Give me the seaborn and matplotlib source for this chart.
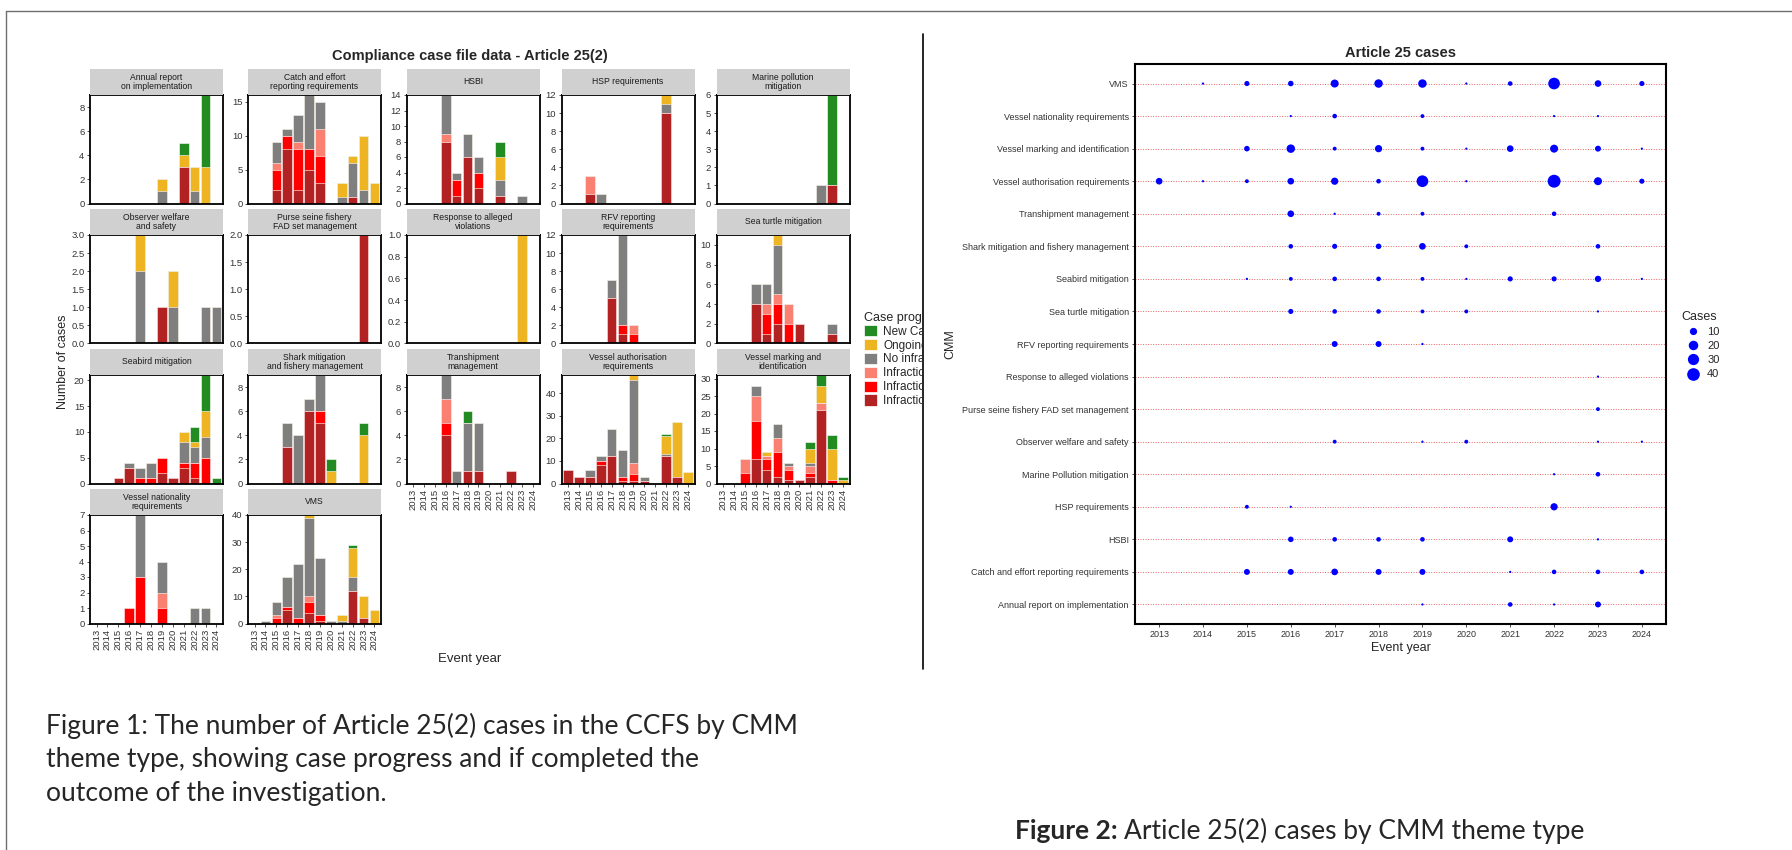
import numpy as np
import pandas as pd
import seaborn as sns
import matplotlib.pyplot as plt
from matplotlib.patches import Patch
from matplotlib.lines import Line2D
from matplotlib.transforms import Bbox, TransformedBbox

# ---------------- data: figure 1 (stacked bars) ----------------
years = list(range(2013, 2025))
year_labels = [str(y) for y in years]

# stack order, bottom to top
stack_order = ["Infraction - sanctioned", "Infraction - warning", "Infraction - no action",
               "No infraction", "Ongoing", "New Case"]
stack_colors = ["#B22222", "#FF0000", "#FA8072", "#7F7F7F", "#EEB422", "#228B22"]

# each panel: one row per stack level (same order as stack_order), one value per year
annual_report = [
    [0, 0, 0, 0, 0, 0, 0, 0, 3, 0, 0, 0],
    [0, 0, 0, 0, 0, 0, 0, 0, 0, 0, 0, 0],
    [0, 0, 0, 0, 0, 0, 0, 0, 0, 0, 0, 0],
    [0, 0, 0, 0, 0, 0, 1, 0, 0, 1, 0, 0],
    [0, 0, 0, 0, 0, 0, 1, 0, 1, 2, 3, 0],
    [0, 0, 0, 0, 0, 0, 0, 0, 1, 0, 6, 0],
]
catch_effort = [
    [0, 0, 2, 8, 2, 5, 3, 0, 0, 1, 0, 0],
    [0, 0, 3, 2, 6, 3, 4, 0, 0, 0, 0, 0],
    [0, 0, 1, 0, 1, 0, 4, 0, 0, 0, 0, 0],
    [0, 0, 3, 1, 4, 8, 4, 0, 1, 5, 2, 0],
    [0, 0, 0, 0, 0, 0, 0, 0, 2, 1, 8, 3],
    [0, 0, 0, 0, 0, 0, 0, 0, 0, 0, 0, 0],
]
hsbi = [
    [0, 0, 0, 8, 1, 6, 2, 0, 1, 0, 0, 0],
    [0, 0, 0, 0, 2, 0, 2, 0, 0, 0, 0, 0],
    [0, 0, 0, 1, 0, 0, 0, 0, 0, 0, 0, 0],
    [0, 0, 0, 5, 1, 3, 2, 0, 2, 0, 1, 0],
    [0, 0, 0, 0, 0, 0, 0, 0, 3, 0, 0, 0],
    [0, 0, 0, 0, 0, 0, 0, 0, 2, 0, 0, 0],
]
hsp = [
    [0, 0, 1, 0, 0, 0, 0, 0, 0, 10, 0, 0],
    [0, 0, 0, 0, 0, 0, 0, 0, 0, 0, 0, 0],
    [0, 0, 2, 0, 0, 0, 0, 0, 0, 0, 0, 0],
    [0, 0, 0, 1, 0, 0, 0, 0, 0, 1, 0, 0],
    [0, 0, 0, 0, 0, 0, 0, 0, 0, 1, 0, 0],
    [0, 0, 0, 0, 0, 0, 0, 0, 0, 0, 0, 0],
]
marine_pollution = [
    [0, 0, 0, 0, 0, 0, 0, 0, 0, 0, 1, 0],
    [0, 0, 0, 0, 0, 0, 0, 0, 0, 0, 0, 0],
    [0, 0, 0, 0, 0, 0, 0, 0, 0, 0, 0, 0],
    [0, 0, 0, 0, 0, 0, 0, 0, 0, 1, 0, 0],
    [0, 0, 0, 0, 0, 0, 0, 0, 0, 0, 0, 0],
    [0, 0, 0, 0, 0, 0, 0, 0, 0, 0, 5, 0],
]
observer = [
    [0, 0, 0, 0, 0, 0, 1, 0, 0, 0, 0, 0],
    [0, 0, 0, 0, 0, 0, 0, 0, 0, 0, 0, 0],
    [0, 0, 0, 0, 0, 0, 0, 0, 0, 0, 0, 0],
    [0, 0, 0, 0, 2, 0, 0, 1, 0, 0, 1, 1],
    [0, 0, 0, 0, 1, 0, 0, 1, 0, 0, 0, 0],
    [0, 0, 0, 0, 0, 0, 0, 0, 0, 0, 0, 0],
]
purse_seine = [
    [0, 0, 0, 0, 0, 0, 0, 0, 0, 0, 2, 0],
    [0, 0, 0, 0, 0, 0, 0, 0, 0, 0, 0, 0],
    [0, 0, 0, 0, 0, 0, 0, 0, 0, 0, 0, 0],
    [0, 0, 0, 0, 0, 0, 0, 0, 0, 0, 0, 0],
    [0, 0, 0, 0, 0, 0, 0, 0, 0, 0, 0, 0],
    [0, 0, 0, 0, 0, 0, 0, 0, 0, 0, 0, 0],
]
response = [
    [0, 0, 0, 0, 0, 0, 0, 0, 0, 0, 0, 0],
    [0, 0, 0, 0, 0, 0, 0, 0, 0, 0, 0, 0],
    [0, 0, 0, 0, 0, 0, 0, 0, 0, 0, 0, 0],
    [0, 0, 0, 0, 0, 0, 0, 0, 0, 0, 0, 0],
    [0, 0, 0, 0, 0, 0, 0, 0, 0, 0, 1, 0],
    [0, 0, 0, 0, 0, 0, 0, 0, 0, 0, 0, 0],
]
rfv = [
    [0, 0, 0, 0, 5, 1, 0, 0, 0, 0, 0, 0],
    [0, 0, 0, 0, 0, 1, 1, 0, 0, 0, 0, 0],
    [0, 0, 0, 0, 0, 0, 1, 0, 0, 0, 0, 0],
    [0, 0, 0, 0, 2, 10, 0, 0, 0, 0, 0, 0],
    [0, 0, 0, 0, 0, 0, 0, 0, 0, 0, 0, 0],
    [0, 0, 0, 0, 0, 0, 0, 0, 0, 0, 0, 0],
]
sea_turtle = [
    [0, 0, 0, 4, 1, 2, 0, 2, 0, 0, 1, 0],
    [0, 0, 0, 0, 2, 2, 2, 0, 0, 0, 0, 0],
    [0, 0, 0, 0, 1, 1, 2, 0, 0, 0, 0, 0],
    [0, 0, 0, 2, 2, 5, 0, 0, 0, 0, 1, 0],
    [0, 0, 0, 0, 0, 1, 0, 0, 0, 0, 0, 0],
    [0, 0, 0, 0, 0, 0, 0, 0, 0, 0, 0, 0],
]
seabird = [
    [0, 0, 1, 3, 0, 0, 2, 1, 3, 1, 0, 0],
    [0, 0, 0, 0, 1, 1, 3, 0, 1, 3, 5, 0],
    [0, 0, 0, 0, 0, 0, 0, 0, 0, 0, 0, 0],
    [0, 0, 0, 1, 2, 3, 0, 0, 4, 3, 4, 0],
    [0, 0, 0, 0, 0, 0, 0, 0, 2, 1, 5, 0],
    [0, 0, 0, 0, 0, 0, 0, 0, 0, 3, 7, 1],
]
shark = [
    [0, 0, 0, 3, 0, 6, 5, 0, 0, 0, 0, 0],
    [0, 0, 0, 0, 0, 0, 1, 0, 0, 0, 0, 0],
    [0, 0, 0, 0, 0, 0, 0, 0, 0, 0, 0, 0],
    [0, 0, 0, 2, 4, 1, 3, 0, 0, 0, 0, 0],
    [0, 0, 0, 0, 0, 0, 0, 1, 0, 0, 4, 0],
    [0, 0, 0, 0, 0, 0, 0, 1, 0, 0, 1, 0],
]
transhipment = [
    [0, 0, 0, 4, 0, 1, 1, 0, 0, 1, 0, 0],
    [0, 0, 0, 1, 0, 0, 0, 0, 0, 0, 0, 0],
    [0, 0, 0, 2, 0, 0, 0, 0, 0, 0, 0, 0],
    [0, 0, 0, 2, 1, 4, 4, 0, 0, 0, 0, 0],
    [0, 0, 0, 0, 0, 0, 0, 0, 0, 0, 0, 0],
    [0, 0, 0, 0, 0, 1, 0, 0, 0, 0, 0, 0],
]
vessel_auth = [
    [6, 3, 3, 8, 12, 1, 1, 1, 0, 12, 3, 0],
    [0, 0, 0, 2, 0, 2, 3, 0, 0, 0, 0, 0],
    [0, 0, 0, 0, 0, 0, 5, 0, 0, 0, 0, 0],
    [0, 0, 3, 2, 12, 12, 37, 2, 0, 1, 0, 0],
    [0, 0, 0, 0, 0, 0, 2, 0, 0, 8, 24, 5],
    [0, 0, 0, 0, 0, 0, 0, 0, 0, 1, 0, 0],
]
vessel_marking = [
    [0, 0, 0, 7, 4, 2, 1, 1, 2, 21, 0, 0],
    [0, 0, 3, 11, 3, 7, 3, 0, 1, 0, 1, 0],
    [0, 0, 4, 7, 1, 4, 1, 0, 2, 2, 0, 0],
    [0, 0, 0, 3, 0, 4, 1, 0, 1, 0, 0, 0],
    [0, 0, 0, 0, 1, 0, 0, 0, 4, 5, 9, 1],
    [0, 0, 0, 0, 0, 0, 0, 0, 2, 3, 4, 1],
]
vessel_nationality = [
    [0, 0, 0, 0, 0, 0, 0, 0, 0, 0, 0, 0],
    [0, 0, 0, 1, 3, 0, 1, 0, 0, 0, 0, 0],
    [0, 0, 0, 0, 0, 0, 1, 0, 0, 0, 0, 0],
    [0, 0, 0, 0, 4, 0, 2, 0, 0, 1, 1, 0],
    [0, 0, 0, 0, 0, 0, 0, 0, 0, 0, 0, 0],
    [0, 0, 0, 0, 0, 0, 0, 0, 0, 0, 0, 0],
]
vms = [
    [0, 0, 0, 5, 0, 4, 1, 0, 0, 12, 2, 0],
    [0, 0, 2, 1, 2, 4, 2, 0, 0, 0, 0, 0],
    [0, 0, 1, 0, 0, 2, 0, 0, 0, 0, 0, 0],
    [0, 1, 5, 11, 20, 29, 21, 1, 1, 5, 0, 0],
    [0, 0, 0, 0, 0, 1, 0, 0, 2, 11, 8, 5],
    [0, 0, 0, 0, 0, 0, 0, 0, 0, 1, 0, 0],
]

panel_titles = ["Annual report\non implementation", "Catch and effort\nreporting requirements", "HSBI",
                "HSP requirements", "Marine pollution\nmitigation", "Observer welfare\nand safety",
                "Purse seine fishery\nFAD set management", "Response to alleged\nviolations",
                "RFV reporting\nrequirements", "Sea turtle mitigation", "Seabird mitigation",
                "Shark mitigation\nand fishery management", "Transhipment\nmanagement",
                "Vessel authorisation\nrequirements", "Vessel marking and\nidentification",
                "Vessel nationality\nrequirements", "VMS"]
panel_counts = [annual_report, catch_effort, hsbi, hsp, marine_pollution, observer, purse_seine,
                response, rfv, sea_turtle, seabird, shark, transhipment, vessel_auth,
                vessel_marking, vessel_nationality, vms]
# y tick spacing per panel (styling)
panel_ystep = [2, 5, 2, 2, 1, 0.5, 0.5, 0.2, 2, 2, 5, 2, 2, 10, 5, 1, 10]

# ---------------- data: figure 2 (bubble chart) ----------------
cmm_order = ["Annual report on implementation", "Catch and effort reporting requirements", "HSBI",
             "HSP requirements", "Marine Pollution mitigation", "Observer welfare and safety",
             "Purse seine fishery FAD set management", "Response to alleged violations",
             "RFV reporting requirements", "Sea turtle mitigation", "Seabird mitigation",
             "Shark mitigation and fishery management", "Transhipment management",
             "Vessel authorisation requirements", "Vessel marking and identification",
             "Vessel nationality requirements", "VMS"]
cases_annual = [0, 0, 0, 0, 0, 0, 1, 0, 3, 1, 6, 0]
cases_catch = [0, 0, 6, 6, 8, 6, 6, 0, 1, 3, 3, 3]
cases_hsbi = [0, 0, 0, 5, 3, 3, 3, 0, 6, 0, 1, 0]
cases_hsp = [0, 0, 2, 1, 0, 0, 0, 0, 0, 10, 0, 0]
cases_marine = [0, 0, 0, 0, 0, 0, 0, 0, 0, 1, 3, 0]
cases_observer = [0, 0, 0, 0, 2, 0, 1, 2, 0, 0, 1, 1]
cases_purse = [0, 0, 0, 0, 0, 0, 0, 0, 0, 0, 2, 0]
cases_response = [0, 0, 0, 0, 0, 0, 0, 0, 0, 0, 1, 0]
cases_rfv = [0, 0, 0, 0, 6, 6, 1, 0, 0, 0, 0, 0]
cases_turtle = [0, 0, 0, 4, 3, 3, 2, 2, 0, 0, 1, 0]
cases_seabird = [0, 0, 1, 2, 3, 3, 2, 1, 4, 4, 7, 1]
cases_shark = [0, 0, 0, 3, 4, 5, 8, 2, 0, 0, 3, 0]
cases_tranship = [0, 0, 0, 8, 1, 2, 2, 0, 0, 3, 0, 0]
cases_vauth = [8, 1, 2, 8, 10, 3, 33, 1, 0, 42, 13, 4]
cases_vmark = [0, 0, 5, 15, 2, 10, 2, 1, 8, 13, 6, 1]
cases_vnat = [0, 0, 0, 1, 3, 0, 2, 0, 0, 1, 1, 0]
cases_vms = [0, 1, 4, 5, 13, 15, 15, 1, 3, 33, 8, 4]
bubble_rows = [cases_annual, cases_catch, cases_hsbi, cases_hsp, cases_marine, cases_observer,
               cases_purse, cases_response, cases_rfv, cases_turtle, cases_seabird, cases_shark,
               cases_tranship, cases_vauth, cases_vmark, cases_vnat, cases_vms]
legend_cases = [10, 20, 30, 40]

# ---------------- figure ----------------
sns.set_style("white")
plt.rcParams["font.family"] = ["Liberation Sans", "DejaVu Sans"]

W, H = 1792, 850
fig = plt.figure(figsize=(W / 100, H / 100), dpi=100)


def px_axes(x, y, w, h):
    # axes placed in pixel units measured from the top-left corner
    return fig.add_axes([x / W, 1 - (y + h) / H, w / W, h / H])


def px_x(x):
    return x / W


def px_y(y):
    return 1 - y / H


tick_col = "#333333"

# ----- figure 1: faceted stacked bars -----
col_x = [90, 248, 406.5, 561.5, 716.5]
row_y = [95, 235, 375, 515]
pw, ph, sh = 133, 108.5, 26.5

for k, (title, counts) in enumerate(zip(panel_titles, panel_counts)):
    r, c = divmod(k, 5)
    ax = px_axes(col_x[c], row_y[r], pw, ph)
    table = pd.DataFrame(np.array(counts).T, columns=stack_order, index=year_labels)
    cum = table.cumsum(axis=1)
    # draw cumulative layers from the top of the stack down
    for status, colr in list(zip(stack_order, stack_colors))[::-1]:
        sns.barplot(x=year_labels, y=cum[status].to_numpy(), order=year_labels, color=colr,
                    saturation=1, width=0.88, edgecolor="white", linewidth=0.4,
                    errorbar=None, ax=ax)
    top = cum[stack_order[-1]].max()
    ax.set_xlim(-0.6, 11.6)
    ax.set_ylim(0, top)
    step = panel_ystep[k]
    ticks = np.arange(0, top + 1e-9, step)
    ax.set_yticks(ticks)
    ax.set_yticklabels([f"{t:.1f}" if step < 1 else f"{int(round(t))}" for t in ticks])
    ax.set_xlabel("")
    ax.set_ylabel("")
    for s in ax.spines.values():
        s.set_color("black")
        s.set_linewidth(1.3)
    ax.tick_params(axis="y", labelsize=6.8, colors=tick_col, length=2.5, width=0.6, pad=1.5,
                   left=True)
    if k + 5 >= len(panel_titles):
        ax.tick_params(axis="x", labelsize=6.8, colors=tick_col, length=2.5, width=0.6,
                       rotation=90, pad=1.5, bottom=True)
    else:
        ax.tick_params(axis="x", bottom=False, labelbottom=False)

    sax = px_axes(col_x[c], row_y[r] - sh, pw, sh)
    sax.set_facecolor("#D0D0D0")
    sax.set_xticks([])
    sax.set_yticks([])
    for s in sax.spines.values():
        s.set_visible(False)
    sax.text(0.5, 0.5, title, ha="center", va="center", fontsize=6.2, color="#1A1A1A",
             linespacing=1.0, transform=sax.transAxes)

fig.text(px_x(470), px_y(56), "Compliance case file data - Article 25(2)", ha="center",
         va="center", fontsize=10.5, fontweight="bold")
fig.text(px_x(63), px_y(362), "Number of cases", rotation=90, ha="center", va="center",
         fontsize=9)
fig.text(px_x(470), px_y(659), "Event year", ha="center", va="center", fontsize=9.5)

handles = [Patch(facecolor=cc, edgecolor="white", linewidth=0.5) for cc in stack_colors[::-1]]
leg1 = fig.legend(handles, stack_order[::-1], title="Case progress", loc="upper left",
                  bbox_to_anchor=(px_x(858), px_y(306)), frameon=False, fontsize=8.5,
                  title_fontsize=9, handlelength=1.1, handleheight=1.1, labelspacing=0.1,
                  handletextpad=0.55, borderpad=0, alignment="left")
clip = TransformedBbox(Bbox([[0, 0], [px_x(922), 1]]), fig.transFigure)
for t in leg1.get_texts() + [leg1.get_title()]:
    t.set_clip_box(clip)
    t.set_clip_on(True)

# ----- figure 2: bubble chart -----
bubble = pd.DataFrame([(cmm, yr, n) for cmm, row in zip(cmm_order, bubble_rows)
                       for yr, n in zip(years, row) if n > 0], columns=["cmm", "year", "cases"])
vmax = 46


def bubble_area(v):
    # ggplot-like area scaling (size range 1..6)
    size = 1 + 5 * np.sqrt((v - 1) / (vmax - 1))
    return (1.61 * size) ** 2


size_lookup = {v: bubble_area(v) for v in sorted(bubble["cases"].unique())}

ax2 = px_axes(1135, 64, 531, 560)
ax2.hlines(cmm_order, 2012.45, 2024.55, colors="#E23B3B", linestyles=(0, (1, 1.6)),
           linewidth=0.7, alpha=0.8, zorder=1)
sns.scatterplot(data=bubble, x="year", y="cmm", size="cases", sizes=size_lookup,
                color="#0000FF", linewidth=0, legend=False, ax=ax2, zorder=3)
ax2.set_xlim(2012.45, 2024.55)
ax2.set_ylim(-0.6, len(cmm_order) - 0.4)
ax2.set_xticks(years)
ax2.set_xticklabels(year_labels)
for s in ax2.spines.values():
    s.set_color("black")
    s.set_linewidth(1.5)
ax2.tick_params(axis="both", labelsize=6.5, colors=tick_col, length=2.5, width=0.6, pad=2,
                left=True, bottom=True)
ax2.set_xlabel("Event year", fontsize=9, labelpad=2)
ax2.set_ylabel("CMM", fontsize=9, labelpad=4)
ax2.set_title("Article 25 cases", fontsize=10.5, fontweight="bold", pad=5)

bubble_handles = [Line2D([0], [0], marker="o", ls="", markerfacecolor="#0000FF",
                         markeredgewidth=0, markersize=np.sqrt(bubble_area(v)))
                  for v in legend_cases]
fig.legend(bubble_handles, [str(v) for v in legend_cases], title="Cases", loc="upper left",
           bbox_to_anchor=(px_x(1676), px_y(305)), frameon=False, fontsize=8,
           title_fontsize=9, borderpad=0, handletextpad=0.3, labelspacing=0.38,
           alignment="left")

# ----- page elements -----
fig.add_artist(Line2D([px_x(923), px_x(923)], [px_y(34), px_y(669)], color="black", lw=1.2,
                      transform=fig.transFigure))
fig.add_artist(Line2D([px_x(6), px_x(W)], [px_y(11), px_y(11)], color="#6E6E6E", lw=1,
                      transform=fig.transFigure))
fig.add_artist(Line2D([px_x(6), px_x(6)], [px_y(11), 0], color="#6E6E6E", lw=1,
                      transform=fig.transFigure))

cap_font = ["Lato", "DejaVu Sans"]
caption1 = ["Figure 1: The number of Article 25(2) cases in the CCFS by CMM",
            "theme type, showing case progress and if completed the",
            "outcome of the investigation."]
for line, yy in zip(caption1, [726, 760, 794]):
    fig.text(px_x(46), px_y(yy), line, ha="left", va="center", fontsize=19, family=cap_font)

renderer = fig.canvas.get_renderer()
lead = fig.text(px_x(1015), px_y(831), "Figure 2:", ha="left", va="center", fontsize=19,
                fontweight="bold", family=cap_font)
bb = lead.get_window_extent(renderer=renderer)
fig.text(bb.x1 / W + 6 / W, px_y(831), "Article 25(2) cases by CMM theme type", ha="left",
         va="center", fontsize=19, family=cap_font)

fig.savefig("out.png", dpi=100)
